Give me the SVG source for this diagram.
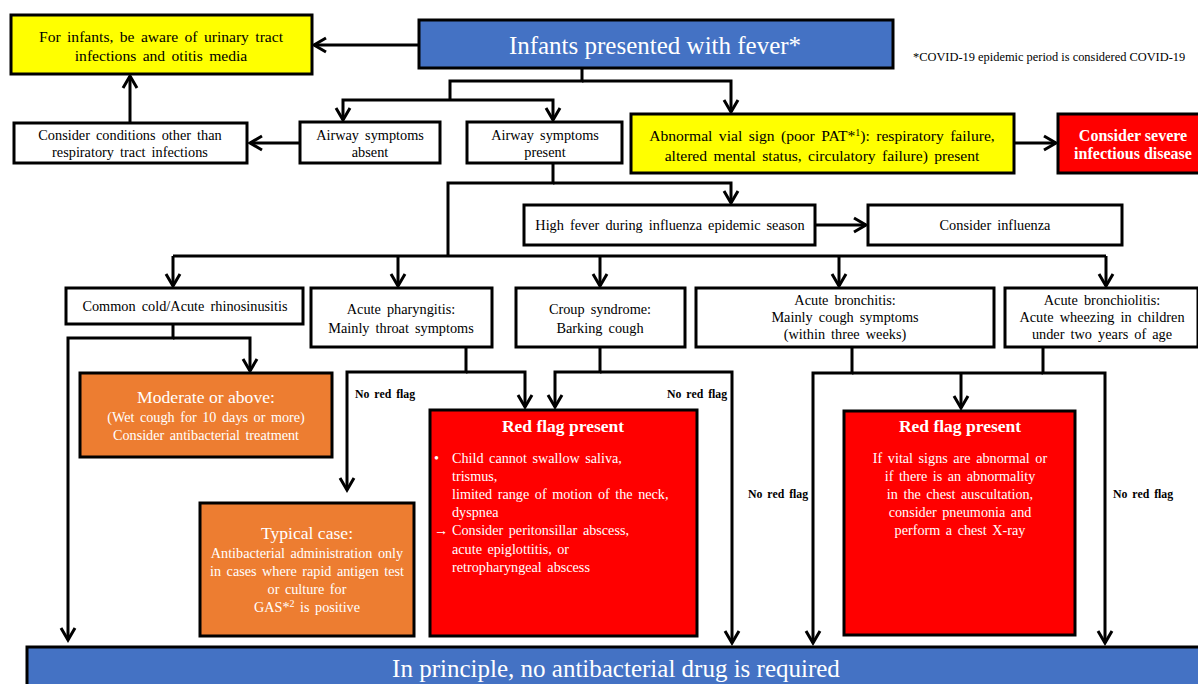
<svg xmlns="http://www.w3.org/2000/svg" width="1198" height="684" viewBox="0 0 1198 684">
<defs>
<marker id="ah" markerUnits="userSpaceOnUse" markerWidth="20" markerHeight="20" refX="0" refY="0" orient="auto" overflow="visible">
<path d="M-12,-7 L0,0 L-12,7" fill="none" stroke="#000" stroke-width="3"/>
</marker>
<style>
.box{stroke:#000;stroke-width:3}
.w{fill:#fff}.y{fill:#ffff00}.b{fill:#4472c4}.r{fill:#ff0000}.o{fill:#ed7d31}
text{font-family:"Liberation Serif","Times New Roman",serif;fill:#000}
.t{font-size:14.3px;text-anchor:middle;word-spacing:2.5px}
.ty{font-size:15.6px;text-anchor:middle;word-spacing:2.5px}
.tw{font-size:14.2px;fill:#fff;word-spacing:2px}
.big{font-size:25px;fill:#fff;text-anchor:middle}
.bold{font-weight:bold;fill:#fff;text-anchor:middle}
.nrf{font-size:11.8px;font-weight:bold;word-spacing:2px}
.con{fill:none;stroke:#000;stroke-width:3}
</style>
</defs>
<rect width="1198" height="684" fill="#fff"/>

<g id="connectors">
<path class="con" d="M419,45 H314" marker-end="url(#ah)"/>
<path class="con" d="M582,68 V81 H450 V100"/>
<path class="con" d="M450,100 H343 V120" marker-end="url(#ah)"/>
<path class="con" d="M450,100 H553 V120" marker-end="url(#ah)"/>
<path class="con" d="M582,81 H731 V112" marker-end="url(#ah)"/>
<path class="con" d="M300,143 H250" marker-end="url(#ah)"/>
<path class="con" d="M130,122 V76" marker-end="url(#ah)"/>
<path class="con" d="M1014,143 H1056" marker-end="url(#ah)"/>
<path class="con" d="M553,163 V183 H448 V256"/>
<path class="con" d="M553,183 H731 V203" marker-end="url(#ah)"/>
<path class="con" d="M815,225 H866" marker-end="url(#ah)"/>
<path class="con" d="M173,256 H1106"/>
<path class="con" d="M173,256 V286" marker-end="url(#ah)"/>
<path class="con" d="M398,256 V286" marker-end="url(#ah)"/>
<path class="con" d="M600,256 V286" marker-end="url(#ah)"/>
<path class="con" d="M839,256 V286" marker-end="url(#ah)"/>
<path class="con" d="M1106,256 V286" marker-end="url(#ah)"/>
<path class="con" d="M173,324 V338 H68 V640" marker-end="url(#ah)"/>
<path class="con" d="M173,338 H250 V371" marker-end="url(#ah)"/>
<path class="con" d="M466,347 V372 H347 V490" marker-end="url(#ah)"/>
<path class="con" d="M466,372 H525 V407" marker-end="url(#ah)"/>
<path class="con" d="M600,347 V372 H555 V407" marker-end="url(#ah)"/>
<path class="con" d="M600,372 H732 V643" marker-end="url(#ah)"/>
<path class="con" d="M852,347 V373 H813 V643" marker-end="url(#ah)"/>
<path class="con" d="M1043,347 V373 H1105 V643" marker-end="url(#ah)"/>
<path class="con" d="M852,373 H1043"/>
<path class="con" d="M961,373 V408" marker-end="url(#ah)"/>
</g>

<g id="footnote">
<text x="913" y="61" style="font-size:12.4px">*COVID-19  epidemic period is considered COVID-19</text>
</g>

<g id="n-infants-aware">
<rect class="box y" x="11" y="15" width="301" height="59"/>
<text class="ty" x="161" y="42">For infants, be aware of urinary tract</text>
<text class="ty" x="161" y="61">infections and otitis media</text>
</g>

<g id="n-infants-fever">
<rect class="box b" x="419" y="20" width="474" height="48"/>
<text class="big" x="655" y="54">Infants presented with fever*</text>
</g>

<g id="n-consider-other">
<rect class="box w" x="14" y="123" width="233" height="40"/>
<text class="t" x="130" y="140">Consider conditions other than</text>
<text class="t" x="130" y="157">respiratory tract infections</text>
</g>

<g id="n-airway-absent">
<rect class="box w" x="300" y="122" width="140" height="41"/>
<text class="t" x="370" y="140">Airway symptoms</text>
<text class="t" x="370" y="157">absent</text>
</g>

<g id="n-airway-present">
<rect class="box w" x="467" y="122" width="155" height="41"/>
<text class="t" x="545" y="140">Airway symptoms</text>
<text class="t" x="545" y="157">present</text>
</g>

<g id="n-abnormal">
<rect class="box y" x="631" y="114" width="383" height="59"/>
<text class="ty" x="822" y="141">Abnormal vial sign (poor PAT*<tspan dy="-5" style="font-size:10px">1</tspan><tspan dy="5">): respiratory failure,</tspan></text>
<text class="ty" x="822" y="161">altered mental status, circulatory failure) present</text>
</g>

<g id="n-severe">
<rect class="box r" x="1058" y="114" width="142" height="59"/>
<text class="bold" x="1133" y="141" style="font-size:16px">Consider severe</text>
<text class="bold" x="1133" y="159" style="font-size:16px">infectious disease</text>
</g>

<g id="n-high-fever">
<rect class="box w" x="524" y="205" width="291" height="40"/>
<text class="t" x="670" y="230">High fever during influenza epidemic season</text>
</g>

<g id="n-influenza">
<rect class="box w" x="868" y="205" width="254" height="40"/>
<text class="t" x="995" y="230">Consider influenza</text>
</g>

<g id="n-common-cold">
<rect class="box w" x="66" y="288" width="237" height="36"/>
<text class="t" x="185" y="311">Common cold/Acute rhinosinusitis</text>
</g>

<g id="n-pharyngitis">
<rect class="box w" x="311" y="288" width="181" height="59"/>
<text class="t" x="401" y="314">Acute pharyngitis:</text>
<text class="t" x="401" y="333">Mainly throat symptoms</text>
</g>

<g id="n-croup">
<rect class="box w" x="516" y="288" width="169" height="59"/>
<text class="t" x="600" y="314">Croup syndrome:</text>
<text class="t" x="600" y="333">Barking cough</text>
</g>

<g id="n-bronchitis">
<rect class="box w" x="696" y="288" width="298" height="59"/>
<text class="t" x="845" y="305">Acute bronchitis:</text>
<text class="t" x="845" y="322">Mainly cough symptoms</text>
<text class="t" x="845" y="339">(within three weeks)</text>
</g>

<g id="n-bronchiolitis">
<rect class="box w" x="1005" y="288" width="193" height="59"/>
<text class="t" x="1102" y="305">Acute bronchiolitis:</text>
<text class="t" x="1102" y="322">Acute wheezing in children</text>
<text class="t" x="1102" y="339">under two years of age</text>
</g>

<g id="n-moderate">
<rect class="box o" x="80" y="373" width="252" height="84"/>
<text class="tw" x="206" y="403" style="font-size:17.6px;text-anchor:middle;word-spacing:0">Moderate or above:</text>
<text class="tw" x="206" y="422" style="text-anchor:middle">(Wet cough for 10 days or more)</text>
<text class="tw" x="206" y="440" style="text-anchor:middle">Consider antibacterial treatment</text>
</g>

<g id="n-typical">
<rect class="box o" x="200" y="503" width="214" height="133"/>
<text class="tw" x="307" y="539" style="font-size:17.6px;text-anchor:middle;word-spacing:0">Typical case:</text>
<text class="tw" x="307" y="558" style="text-anchor:middle">Antibacterial administration only</text>
<text class="tw" x="307" y="576" style="text-anchor:middle">in cases where rapid antigen test</text>
<text class="tw" x="307" y="594" style="text-anchor:middle">or culture for</text>
<text class="tw" x="307" y="612" style="text-anchor:middle">GAS*<tspan dy="-5" style="font-size:10px">2</tspan><tspan dy="5"> is positive</tspan></text>
</g>

<g id="n-redflag1">
<rect class="box r" x="430" y="410" width="267" height="226"/>
<text class="bold" x="563" y="432" style="font-size:17.5px">Red flag present</text>
<text class="tw" x="434" y="463">•</text>
<text class="tw" x="452" y="463">Child cannot swallow saliva,</text>
<text class="tw" x="452" y="481">trismus,</text>
<text class="tw" x="452" y="499">limited range of motion of the neck,</text>
<text class="tw" x="452" y="517">dyspnea</text>
<text class="tw" x="434" y="535">→</text>
<text class="tw" x="452" y="535">Consider peritonsillar abscess,</text>
<text class="tw" x="452" y="554">acute epiglottitis, or</text>
<text class="tw" x="452" y="572">retropharyngeal abscess</text>
</g>

<g id="n-redflag2">
<rect class="box r" x="844" y="411" width="231" height="224"/>
<text class="bold" x="960" y="432" style="font-size:17.5px">Red flag present</text>
<text class="tw" x="960" y="463" style="text-anchor:middle">If vital signs are abnormal or</text>
<text class="tw" x="960" y="481" style="text-anchor:middle">if there is an abnormality</text>
<text class="tw" x="960" y="499" style="text-anchor:middle">in the chest auscultation,</text>
<text class="tw" x="960" y="517" style="text-anchor:middle">consider pneumonia and</text>
<text class="tw" x="960" y="535" style="text-anchor:middle">perform a chest X-ray</text>
</g>

<g id="labels">
<text class="nrf" x="355" y="398">No red flag</text>
<text class="nrf" x="667" y="398">No red flag</text>
<text class="nrf" x="748" y="498">No red flag</text>
<text class="nrf" x="1113" y="498">No red flag</text>
</g>

<g id="n-no-antibacterial">
<rect class="box b" x="27" y="647" width="1175" height="45"/>
<text class="big" x="616" y="677">In principle, no antibacterial drug is required</text>
</g>
</svg>
